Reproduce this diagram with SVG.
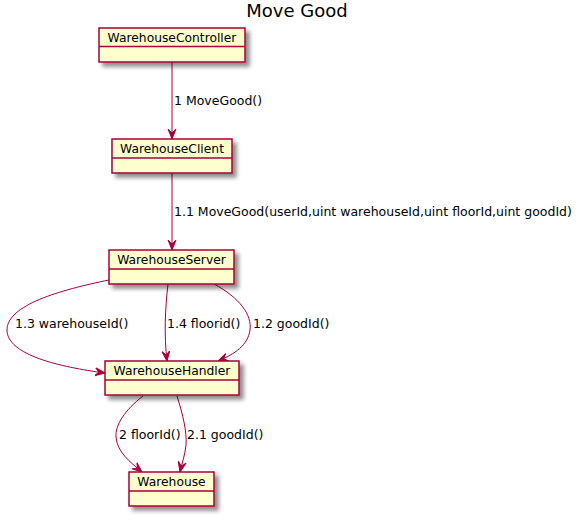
<svg xmlns="http://www.w3.org/2000/svg" width="583" height="516" viewBox="0 0 583 516">
<defs>
<filter id="sh" x="-10%" y="-10%" width="130%" height="150%">
<feGaussianBlur in="SourceAlpha" stdDeviation="2"/>
<feOffset dx="4" dy="4" result="b"/>
<feComponentTransfer><feFuncA type="linear" slope="0.45"/></feComponentTransfer>
<feMerge><feMergeNode/><feMergeNode in="SourceGraphic"/></feMerge>
</filter>
<marker id="ah" viewBox="0 0 10 10" refX="10" refY="5" markerWidth="10" markerHeight="10" markerUnits="userSpaceOnUse" orient="auto">
<path d="M10,5 L0,1 L4,5 L0,9 Z" fill="#A80036" stroke="#A80036" stroke-width="1"/>
</marker>
<style>
.box{fill:#FEFECE;stroke:#A80036;stroke-width:1.5}
.div{stroke:#A80036;stroke-width:1.5}
.nm{font-family:"DejaVu Sans",sans-serif;font-size:12.3px;fill:#000;text-anchor:middle}
.lb{font-family:"DejaVu Sans",sans-serif;font-size:12.5px;fill:#000}
.e{fill:none;stroke:#A80036;stroke-width:1;marker-end:url(#ah)}
</style>
</defs>
<rect width="583" height="516" fill="#fff"/>
<text x="297" y="17" font-family="DejaVu Sans,sans-serif" font-size="18" text-anchor="middle">Move Good</text>
<g id="connectors">
<path class="e" d="M172,62 L172,139"/>
<path class="e" d="M172,173 L172,250"/>
<path class="e" d="M109,280 C60,290 7,305 7,330 C7,355 60,367 105,373"/>
<path class="e" d="M168,284 C165,310 164,335 167,361"/>
<path class="e" d="M214,284 C240,298 252,315 250,330 C248,345 235,354 218,361"/>
<path class="e" d="M143,396 C125,410 115,425 116,437 C117,452 130,462 142,472"/>
<path class="e" d="M177,396 C183,415 187,432 186,445 C185,455 182,463 180,472"/>
<text class="lb" x="174" y="105">1 MoveGood()</text>
<text class="lb" x="174" y="216">1.1 MoveGood(userId,uint warehouseId,uint floorId,uint goodId)</text>
<text class="lb" x="15" y="328">1.3 warehouseId()</text>
<text class="lb" x="167" y="328">1.4 floorid()</text>
<text class="lb" x="253" y="328">1.2 goodId()</text>
<text class="lb" x="119" y="439">2 floorId()</text>
<text class="lb" x="187" y="439">2.1 goodId()</text>
</g>
<g id="WarehouseController">
<rect class="box" x="99" y="28" width="146" height="34" filter="url(#sh)"/>
<line class="div" x1="99" y1="46.5" x2="245" y2="46.5"/>
<text class="nm" x="172" y="42">WarehouseController</text>
</g>
<g id="WarehouseClient">
<rect class="box" x="112" y="139" width="120" height="34" filter="url(#sh)"/>
<line class="div" x1="112" y1="158" x2="232" y2="158"/>
<text class="nm" x="172" y="153">WarehouseClient</text>
</g>
<g id="WarehouseServer">
<rect class="box" x="109" y="250" width="125" height="34" filter="url(#sh)"/>
<line class="div" x1="109" y1="269" x2="234" y2="269"/>
<text class="nm" x="171.5" y="264">WarehouseServer</text>
</g>
<g id="WarehouseHandler">
<rect class="box" x="105" y="361" width="134" height="34" filter="url(#sh)"/>
<line class="div" x1="105" y1="380" x2="239" y2="380"/>
<text class="nm" x="172" y="375">WarehouseHandler</text>
</g>
<g id="Warehouse">
<rect class="box" x="129" y="472" width="85" height="34" filter="url(#sh)"/>
<line class="div" x1="129" y1="491" x2="214" y2="491"/>
<text class="nm" x="171.5" y="486">Warehouse</text>
</g>
</svg>
